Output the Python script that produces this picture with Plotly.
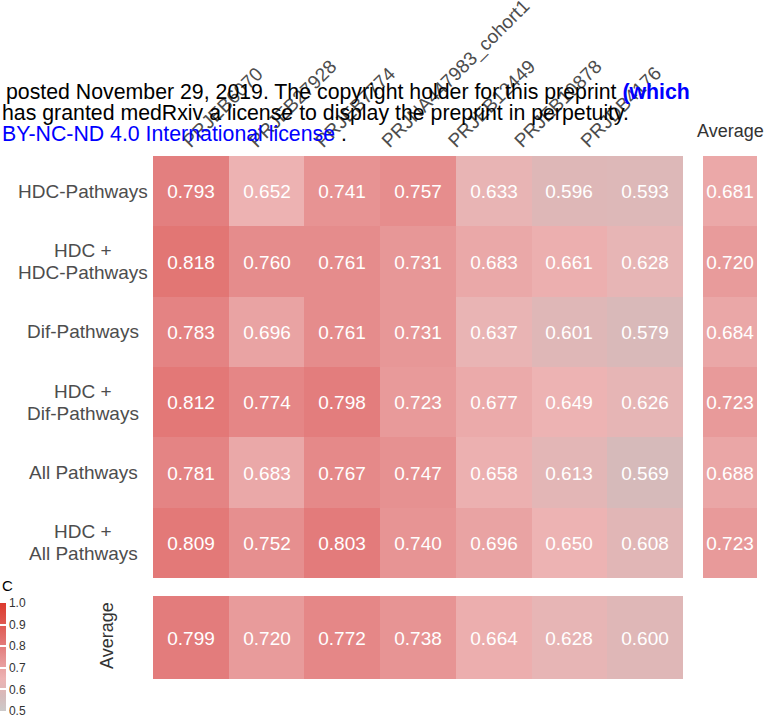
import plotly.graph_objects as go

W, H = 767, 717

# Cohorts (columns) and feature sets (rows)
cohorts = ["PRJEB6070", "PRJEB27928", "PRJEB7774", "PRJNA447983_cohort1",
           "PRJEB12449", "PRJEB10878", "PRJDB4176"]
feature_sets = [["HDC-Pathways"], ["HDC +", "HDC-Pathways"], ["Dif-Pathways"],
                ["HDC +", "Dif-Pathways"], ["All Pathways"], ["HDC +", "All Pathways"]]

auc_hdc_pathways = [0.793, 0.652, 0.741, 0.757, 0.633, 0.596, 0.593]
auc_hdc_plus_hdc_pathways = [0.818, 0.760, 0.761, 0.731, 0.683, 0.661, 0.628]
auc_dif_pathways = [0.783, 0.696, 0.761, 0.731, 0.637, 0.601, 0.579]
auc_hdc_plus_dif_pathways = [0.812, 0.774, 0.798, 0.723, 0.677, 0.649, 0.626]
auc_all_pathways = [0.781, 0.683, 0.767, 0.747, 0.658, 0.613, 0.569]
auc_hdc_plus_all_pathways = [0.809, 0.752, 0.803, 0.740, 0.696, 0.650, 0.608]

row_average = [0.681, 0.720, 0.684, 0.723, 0.688, 0.723]
column_average = [0.799, 0.720, 0.772, 0.738, 0.664, 0.628, 0.600]

colorbar_ticks = [0.5, 0.6, 0.7, 0.8, 0.9, 1.0]

auc_matrix = [auc_hdc_pathways, auc_hdc_plus_hdc_pathways, auc_dif_pathways,
              auc_hdc_plus_dif_pathways, auc_all_pathways, auc_hdc_plus_all_pathways]

# grey -> pink -> red ramp over AUC 0.5 .. 1.0
colorscale = [
    [0.00, "#cccaca"],
    [0.14, "#d6baba"],
    [0.22, "#e2b6b6"],
    [0.30, "#edb3b3"],
    [0.40, "#e9a2a2"],
    [0.50, "#e69090"],
    [0.60, "#e37c7c"],
    [0.80, "#df5a52"],
    [1.00, "#dc3a2e"],
]


def px_x(p):
    return p / W


def px_y(p):
    return 1 - p / H


font_family = "Liberation Sans, Arial, sans-serif"
cell_font = dict(family=font_family, size=19, color="white")
label_color = "#4d4d4d"

row_idx = list(range(len(feature_sets)))
col_idx = list(range(len(cohorts)))

# geometry of the main matrix (pixels)
left, right, top, bottom = 153, 683, 156, 578
col_w = (right - left) / len(cohorts)
row_h = (bottom - top) / len(feature_sets)

# rotated cohort labels sit on a slightly tighter pitch than the cells
label_start, label_pitch = 184, 66.3
label_ticks = [(label_start + label_pitch * i - left) / col_w - 0.5 for i in col_idx]

fig = go.Figure()

# main AUC matrix
fig.add_trace(go.Heatmap(
    z=auc_matrix, x=col_idx, y=row_idx,
    zmin=0.5, zmax=1.0, colorscale=colorscale,
    texttemplate="%{z:.3f}", textfont=cell_font,
    hoverinfo="skip", xaxis="x", yaxis="y",
    colorbar=dict(
        x=0, xanchor="left", xpad=0, thickness=6,
        lenmode="pixels", len=108, y=px_y(657), yanchor="middle", ypad=0,
        outlinewidth=0, tickvals=colorbar_ticks, tickformat=".1f",
        ticks="inside", ticklen=6, tickcolor="white", tickwidth=1.5,
        ticklabeloverflow="allow",
        tickfont=dict(family=font_family, size=12, color="#333333"),
    ),
))

# per-feature-set average (right column)
fig.add_trace(go.Heatmap(
    z=[[v] for v in row_average], x=[0], y=row_idx,
    zmin=0.5, zmax=1.0, colorscale=colorscale, showscale=False,
    texttemplate="%{z:.3f}", textfont=cell_font,
    hoverinfo="skip", xaxis="x2", yaxis="y2",
))

# per-cohort average (bottom row)
fig.add_trace(go.Heatmap(
    z=[column_average], x=col_idx, y=[0],
    zmin=0.5, zmax=1.0, colorscale=colorscale, showscale=False,
    texttemplate="%{z:.3f}", textfont=cell_font,
    hoverinfo="skip", xaxis="x3", yaxis="y3",
))

hidden = dict(showgrid=False, zeroline=False, showline=False, showticklabels=False, ticks="")

main_x = [px_x(left), px_x(right)]
main_y = [px_y(bottom), px_y(top)]

fig.update_layout(
    width=W, height=H,
    margin=dict(l=0, r=0, t=0, b=0, autoexpand=False),
    paper_bgcolor="white", plot_bgcolor="white",
    font=dict(family=font_family),
    xaxis=dict(domain=main_x, anchor="y", side="top",
               tickvals=label_ticks, ticktext=cohorts, tickangle=-45,
               tickfont=dict(size=19, color=label_color),
               showgrid=False, zeroline=False, showline=False, ticks="",
               automargin=False, range=[-0.5, len(cohorts) - 0.5]),
    yaxis=dict(domain=main_y, anchor="x", autorange="reversed", **hidden),
    xaxis2=dict(domain=[px_x(703), px_x(757)], anchor="y2", range=[-0.5, 0.5], **hidden),
    yaxis2=dict(domain=main_y, anchor="x2", autorange="reversed", **hidden),
    xaxis3=dict(domain=main_x, anchor="y3", range=[-0.5, len(cohorts) - 0.5], **hidden),
    yaxis3=dict(domain=[px_y(679), px_y(596)], anchor="x3", range=[-0.5, 0.5], **hidden),
)

annotations = []
line_gap = 22
for i, lines in enumerate(feature_sets):
    yc = top + row_h * (i + 0.5)
    offsets = [0] if len(lines) == 1 else [-line_gap / 2, line_gap / 2]
    for line, off in zip(lines, offsets):
        annotations.append(dict(
            x=px_x(83), y=px_y(yc + off), xref="paper", yref="paper",
            text=line, showarrow=False, xanchor="center", yanchor="middle",
            font=dict(size=19, color=label_color),
        ))

annotations += [
    dict(x=px_x(730), y=px_y(131), xref="paper", yref="paper", text="Average",
         showarrow=False, xanchor="center", yanchor="middle",
         font=dict(size=18, color="#333333")),
    dict(x=px_x(107), y=px_y(636), xref="paper", yref="paper", text="Average",
         showarrow=False, xanchor="center", yanchor="middle", textangle=-90,
         font=dict(size=18, color="#333333")),
    dict(x=0, y=px_y(585), xref="paper", yref="paper", text="C",
         showarrow=False, xanchor="left", yanchor="middle",
         font=dict(size=15, color="black")),
    # preprint notice overlay
    dict(x=px_x(4), y=px_y(92), xref="paper", yref="paper",
         text="posted November 29, 2019. The copyright holder for this preprint "
              "<b><span style='color:#0000ff'>(which</span></b>",
         showarrow=False, xanchor="left", yanchor="middle",
         font=dict(size=21.3, color="black")),
    dict(x=0, y=px_y(113), xref="paper", yref="paper",
         text="has granted medRxiv a license to display the preprint in perpetuity.",
         showarrow=False, xanchor="left", yanchor="middle",
         font=dict(size=21.3, color="black")),
    dict(x=0, y=px_y(134), xref="paper", yref="paper",
         text="<span style='color:#0000ff'>BY-NC-ND 4.0 International license</span> .",
         showarrow=False, xanchor="left", yanchor="middle",
         font=dict(size=21.3, color="black")),
]
fig.update_layout(annotations=annotations)

fig.write_html("out.html")
